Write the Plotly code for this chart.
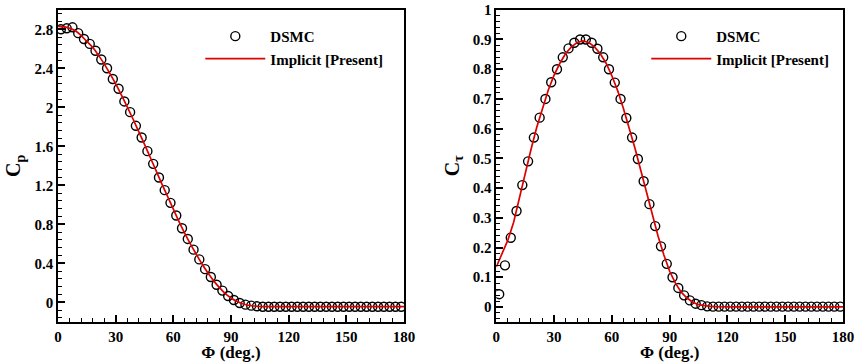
import plotly.graph_objects as go

# ---------------- data ----------------
phi_dsmc = [1.5 + 3 * k for k in range(60)]

cp_dsmc = [2.80, 2.81, 2.82, 2.76, 2.70, 2.65, 2.58, 2.49, 2.40, 2.29,
           2.19, 2.06, 1.95, 1.81, 1.69, 1.55, 1.42, 1.28, 1.15, 1.02,
           0.89, 0.76, 0.65, 0.54, 0.44, 0.34, 0.26, 0.18, 0.12, 0.065,
           0.024, -0.007, -0.024, -0.034, -0.041, -0.045, -0.045, -0.045, -0.045, -0.045,
           -0.045, -0.045, -0.045, -0.045, -0.045, -0.045, -0.045, -0.045, -0.045, -0.045,
           -0.045, -0.045, -0.045, -0.045, -0.045, -0.045, -0.045, -0.045, -0.045, -0.045]

ct_dsmc = [0.043, 0.140, 0.233, 0.323, 0.410, 0.490, 0.570, 0.637, 0.700, 0.756,
           0.800, 0.840, 0.870, 0.889, 0.900, 0.900, 0.889, 0.869, 0.840, 0.800,
           0.755, 0.700, 0.636, 0.570, 0.498, 0.423, 0.346, 0.272, 0.204, 0.145,
           0.100, 0.064, 0.039, 0.022, 0.011, 0.006, 0.002, 0.001, 0.001, 0.001,
           0.001, 0.001, 0.001, 0.001, 0.001, 0.001, 0.001, 0.001, 0.001, 0.001,
           0.001, 0.001, 0.001, 0.001, 0.001, 0.001, 0.001, 0.001, 0.001, 0.001]

phi_line = [3 * k for k in range(61)]

cp_line = [2.83, 2.825, 2.81, 2.785, 2.735, 2.675, 2.615, 2.535, 2.445, 2.345,
           2.24, 2.125, 2.005, 1.88, 1.75, 1.62, 1.485, 1.35, 1.215, 1.085,
           0.955, 0.825, 0.705, 0.595, 0.49, 0.39, 0.30, 0.22, 0.15, 0.09,
           0.045, 0.01, -0.015, -0.03, -0.038, -0.043, -0.045, -0.045, -0.045, -0.045,
           -0.045, -0.045, -0.045, -0.045, -0.045, -0.045, -0.045, -0.045, -0.045, -0.045,
           -0.045, -0.045, -0.045, -0.045, -0.045, -0.045, -0.045, -0.045, -0.045, -0.045,
           -0.045]

ct_line = [0.135, 0.18, 0.225, 0.285, 0.37, 0.45, 0.53, 0.605, 0.67, 0.73,
           0.78, 0.82, 0.853, 0.875, 0.89, 0.895, 0.89, 0.875, 0.852, 0.82,
           0.778, 0.728, 0.668, 0.603, 0.534, 0.46, 0.385, 0.31, 0.238, 0.175,
           0.12, 0.08, 0.05, 0.03, 0.016, 0.008, 0.004, 0.002, 0.001, 0.0,
           0.0, 0.0, 0.0, 0.0, 0.0, 0.0, 0.0, 0.0, 0.0, 0.0,
           0.0, 0.0, 0.0, 0.0, 0.0, 0.0, 0.0, 0.0, 0.0, 0.0,
           0.0]

x_ticks = [0, 30, 60, 90, 120, 150, 180]

# ---------------- figure ----------------
FONT = "Liberation Serif"
RED = "#dd0000"

fig = go.Figure()

marker_style = dict(symbol="circle-open", size=9, color="black", line=dict(width=1.4))
line_style = dict(color=RED, width=1.7)

fig.add_trace(go.Scatter(x=phi_dsmc, y=cp_dsmc, mode="markers", name="DSMC",
                         marker=marker_style, xaxis="x", yaxis="y", legend="legend"))
fig.add_trace(go.Scatter(x=phi_line, y=cp_line, mode="lines", name="Implicit [Present]",
                         line=line_style, line_shape="spline", xaxis="x", yaxis="y", legend="legend"))
fig.add_trace(go.Scatter(x=phi_dsmc, y=ct_dsmc, mode="markers", name="DSMC",
                         marker=marker_style, xaxis="x2", yaxis="y2", legend="legend2"))
fig.add_trace(go.Scatter(x=phi_line, y=ct_line, mode="lines", name="Implicit [Present]",
                         line=line_style, xaxis="x2", yaxis="y2", legend="legend2"))

tickfont = dict(family=FONT, size=15, color="black", weight="bold")
titlefont = dict(family=FONT, size=17, color="black", weight="bold")

def xaxis(domain, anchor):
    return dict(domain=domain, anchor=anchor, range=[0, 180], tickvals=x_ticks,
                ticks="inside", ticklen=7, tickwidth=1.5, tickcolor="black",
                minor=dict(dtick=6, ticklen=4, tickwidth=1, tickcolor="black", ticks="inside"),
                showline=True, linewidth=1.6, linecolor="black", mirror=True,
                showgrid=False, zeroline=False, tickfont=tickfont, ticklabelstandoff=0,
                automargin=False,
                title=dict(text="Φ (deg.)", font=titlefont, standoff=5))

def yaxis(domain, anchor, rng, dtick, mdtick, title):
    return dict(domain=domain, anchor=anchor, range=rng, dtick=dtick, tick0=0,
                ticks="inside", ticklen=7, tickwidth=1.5, tickcolor="black",
                minor=dict(dtick=mdtick, tick0=0, ticklen=4, tickwidth=1, tickcolor="black", ticks="inside"),
                showline=True, linewidth=1.6, linecolor="black", mirror=True,
                showgrid=False, zeroline=False, tickfont=tickfont, automargin=False,
                title=dict(text=title, font=dict(family=FONT, size=20, color="black", weight="bold"), standoff=8))

ydom = [0.111, 0.973]
legfont = dict(family=FONT, size=15, color="black", weight="bold")

fig.update_layout(
    width=856, height=362,
    margin=dict(l=0, r=0, t=0, b=0),
    paper_bgcolor="white", plot_bgcolor="white",
    showlegend=True,
    xaxis=xaxis([0.0678, 0.472], "y"),
    yaxis=yaxis(ydom, "x", [-0.2, 3.0], 0.4, 0.08, "C<sub>p</sub>"),
    xaxis2=xaxis([0.5798, 0.9848], "y2"),
    yaxis2=yaxis(ydom, "x2", [-0.05, 1.0], 0.1, 0.02, "C<sub>τ</sub>"),
    legend=dict(x=0.234, y=0.945, xanchor="left", yanchor="top", bgcolor="rgba(0,0,0,0)",
                font=legfont, tracegroupgap=0, itemwidth=60),
    legend2=dict(x=0.755, y=0.945, xanchor="left", yanchor="top", bgcolor="rgba(0,0,0,0)",
                 font=legfont, tracegroupgap=0, itemwidth=60),
)

fig.write_html("out.html")
